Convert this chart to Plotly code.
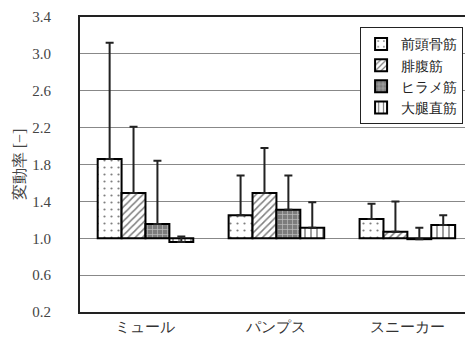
import plotly.graph_objects as go

categories = ["ミュール", "パンプス", "スニーカー"]
series_names = ["前頭骨筋", "腓腹筋", "ヒラメ筋", "大腿直筋"]
values = {
    "前頭骨筋": [1.86, 1.25, 1.21],
    "腓腹筋": [1.49, 1.49, 1.07],
    "ヒラメ筋": [1.155, 1.31, 0.99],
    "大腿直筋": [0.96, 1.115, 1.144],
}
error_tops = {
    "前頭骨筋": [3.12, 1.68, 1.375],
    "腓腹筋": [2.21, 1.98, 1.40],
    "ヒラメ筋": [1.84, 1.68, 1.115],
    "大腿直筋": [1.02, 1.39, 1.25],
}
y_ticks = [0.2, 0.6, 1.0, 1.4, 1.8, 2.2, 2.6, 3.0, 3.4]
baseline = 1.0

patterns = {
    "前頭骨筋": dict(shape=".", bgcolor="white", fgcolor="black", size=7, solidity=0.08),
    "腓腹筋": dict(shape="/", bgcolor="white", fgcolor="black", size=5, solidity=0.3),
    "ヒラメ筋": dict(shape="+", bgcolor="#7c7c7c", fgcolor="white", size=5, solidity=0.25),
    "大腿直筋": dict(shape="|", bgcolor="white", fgcolor="black", size=6, solidity=0.25),
}

fig = go.Figure()
for name in series_names:
    vals = values[name]
    sizes = [v - baseline for v in vals]
    errs = [t - v for t, v in zip(error_tops[name], vals)]
    fig.add_trace(go.Bar(
        name=name,
        x=categories,
        y=sizes,
        base=[baseline] * len(vals),
        marker=dict(color="white", line=dict(color="black", width=2),
                    pattern=patterns[name]),
        error_y=dict(type="data", symmetric=False, array=errs,
                     arrayminus=[0] * len(vals), color="#222", thickness=2, width=4),
    ))

fig.update_layout(
    width=465, height=340,
    margin=dict(l=80, r=0, t=17, b=28, autoexpand=False),
    paper_bgcolor="white", plot_bgcolor="white",
    barmode="group", bargap=0.27, bargroupgap=0,
    font=dict(family="Liberation Serif", size=14, color="#333"),
    showlegend=True,
    legend=dict(x=0.995, y=0.965, xanchor="right", yanchor="top",
                bordercolor="#222", borderwidth=1, bgcolor="white",
                font=dict(size=14, color="#222"), tracegroupgap=0,
                itemwidth=30),
)
fig.update_xaxes(range=[-0.5, 2.44], showline=True, linecolor="#222", linewidth=2,
                 mirror=True, ticks="", showgrid=False, automargin=False,
                 tickfont=dict(size=15, color="#333"))
fig.update_yaxes(range=[0.2, 3.4], tickvals=y_ticks,
                 ticktext=[f"{t:.1f}" for t in y_ticks],
                 showline=True, linecolor="#222", linewidth=2,
                 showgrid=True, gridcolor="#888", gridwidth=1, zeroline=False,
                 ticks="", ticklabelstandoff=24, automargin=False,
                 tickfont=dict(size=15, color="#444"),
                 title=dict(text="変動率 [−]", standoff=3, font=dict(size=16, color="#444")))

fig.write_html("out.html", config={"displayModeBar": False},
               post_script="document.body.style.margin='0';document.body.style.overflow='hidden';")
